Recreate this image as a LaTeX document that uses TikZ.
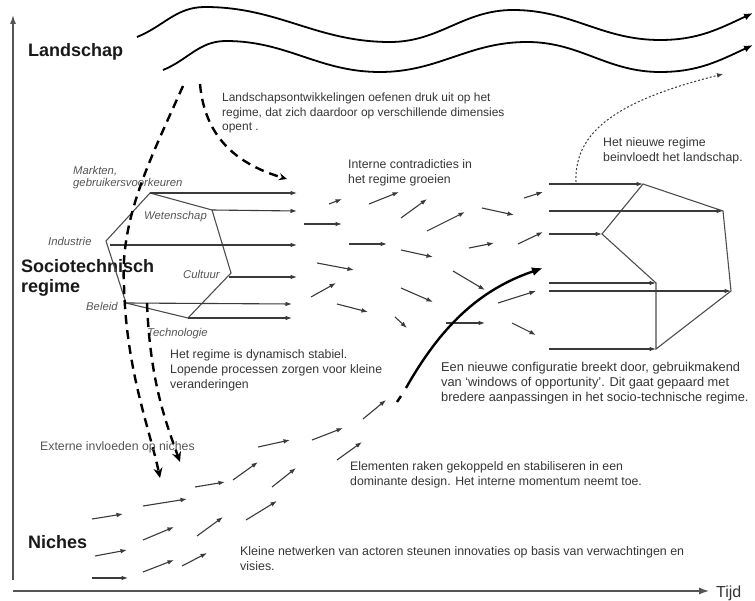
\documentclass[tikz,border=0pt]{standalone}
\usepackage{fontspec}
\setmainfont{Liberation Sans}
\usetikzlibrary{arrows.meta}
\definecolor{txt}{HTML}{363636}
\definecolor{lab}{HTML}{555555}
\definecolor{ln}{HTML}{3A3A3A}
\begin{document}
\begin{tikzpicture}[x=1pt,y=-1pt,
  sarrow/.style={draw=ln, line width=1.1pt, -{Latex[length=6.5pt,width=4.6pt]}},
  hexline/.style={draw=ln!90, line width=1.1pt},
  wave/.style={line width=1.8pt, -{Latex[length=9pt,width=7pt]}},
  bigdash/.style={line width=2.4pt, dash pattern=on 9pt off 6pt, -{Stealth[length=10pt,width=9pt]}},
  body/.style={font=\fontsize{12.3}{15}\selectfont, text=txt, align=left, inner sep=0pt, anchor=base west},
  hlab/.style={font=\fontsize{11.3}{12}\selectfont\itshape, text=lab, inner sep=0pt, anchor=base west},
  level/.style={font=\fontsize{18}{20}\selectfont\bfseries, text=black!90, inner sep=0pt, anchor=base west, align=left}]
\useasboundingbox (0,0) rectangle (755,601);
\fill[white] (0,0) rectangle (755,601);

% axes
\coordinate (o1) at (13,580);
\coordinate (ytop) at (13,15);
\coordinate (o2) at (13,591);
\coordinate (xend) at (709,591);
\draw[draw=lab, line width=1.2pt, -{Latex[length=9pt,width=6pt]}] (o1) -- (ytop);
\draw[draw=lab, line width=1.2pt, -{Latex[length=10pt,width=7pt]}] (o2) -- (xend);
\node[font=\fontsize{16}{18}\selectfont, text=txt, inner sep=0pt, anchor=base west] (tijd) at (716,597) {Tijd};

% landscape waves
\draw[wave] (137,37) to[out=22,in=180] (205,7) to[out=0,in=180] (390,42)
  to[out=0,in=180] (513,10) to[out=0,in=180] (660,40) to[out=0,in=205] (753,13);
\draw[wave] (163,70) to[out=22,in=180] (226,41) to[out=0,in=180] (380,72)
  to[out=0,in=180] (527,42) to[out=0,in=180] (660,72) to[out=0,in=205] (753,45);

% level labels (base = last line)
\node[level] (landschap) at (28,57) {Landschap};
\node[level] (regime) at (21,293) {Sociotechnisch\\regime};
\node[level] (niches) at (28,548) {Niches};

% left hexagon (regime)
\coordinate (A) at (150,193);
\coordinate (B) at (212,210);
\coordinate (C) at (231,273);
\coordinate (D) at (188,318);
\coordinate (E) at (126,303);
\coordinate (F) at (106,241);
\draw[hexline] (A) -- (B) -- (C) -- (D) -- (E) -- (F) -- cycle;
\coordinate (Ae) at (297,193);
\coordinate (Be) at (297,211);
\coordinate (Fs) at (110,245);
\coordinate (Fe) at (297,245);
\coordinate (Cs) at (229,277);
\coordinate (Ce) at (297,277);
\coordinate (Ee) at (292,304);
\coordinate (De) at (292,318);
\draw[sarrow] (A) -- (Ae);
\draw[sarrow] (B) -- (Be);
\draw[sarrow] (Fs) -- (Fe);
\draw[sarrow] (Cs) -- (Ce);
\draw[sarrow] (E) -- (Ee);
\draw[sarrow] (D) -- (De);

\node[hlab, align=left] (markten) at (73,187) {Markten,\\gebruikersvoorkeuren};
\node[hlab] (wetenschap) at (144,220) {Wetenschap};
\node[hlab] (industrie) at (48,246) {Industrie};
\node[hlab] (cultuur) at (183,279) {Cultuur};
\node[hlab] (beleid) at (86,311) {Beleid};
\node[hlab] (technologie) at (147,337) {Technologie};

% regime dynamics arrows
\foreach \a/\b/\c/\d in {329/204/342/199, 304/224/342/224, 369/204/399/192, 401/218/427/199,
  427/231/465/212, 349/244/387/244, 317/263/354/270, 401/250/433/257, 469/248/494/243,
  311/297/336/283, 453/271/485/290, 401/288/433/302, 337/304/368/312, 482/208/514/215,
  524/198/543/192, 518/244/543/232, 498/303/536/291, 395/317/407/328, 446/323/485/323,
  512/323/536/335}
  \draw[sarrow] (\a,\b) -- (\c,\d);

% niche arrows
\foreach \a/\b/\c/\d in {92/519/123/514, 143/506/187/499, 195/487/225/482, 233/480/258/462,
  258/447/290/440, 312/440/343/428, 363/419/386/400, 337/460/362/442, 272/487/296/468,
  246/520/277/501, 197/536/223/517, 143/540/174/527, 95/556/127/550, 143/572/174/560,
  182/566/207/553, 92/578/128/578}
  \draw[sarrow] (\a,\b) -- (\c,\d);

% right hexagon (new regime)
\coordinate (P1) at (643,184);
\coordinate (P2) at (723,211);
\coordinate (P3) at (731,291);
\coordinate (P4) at (656,349);
\coordinate (P5) at (656,283);
\coordinate (P6) at (602,234);
\draw[hexline] (P1) -- (P2) -- (P3) -- (P4) -- (P5) -- (P6) -- cycle;
\coordinate (Q1) at (549,184);
\coordinate (Q2) at (549,211);
\coordinate (Q6) at (549,234);
\coordinate (Q5) at (549,283);
\coordinate (Q3) at (549,291);
\coordinate (Q4) at (549,349);
\draw[sarrow] (Q1) -- (P1);
\draw[sarrow] (Q2) -- (P2);
\draw[sarrow] (Q6) -- (P6);
\draw[sarrow] (Q5) -- (P5);
\draw[sarrow] (Q3) -- (P3);
\draw[sarrow] (Q4) -- (P4);

% dashed influence arrows
\coordinate (d1s) at (183,86);
\coordinate (d1m) at (124,285);
\coordinate (d1e) at (160,478);
\draw[bigdash] (d1s) .. controls (150,160) and (120,218) .. (d1m) .. controls (126,370) and (150,430) .. (d1e);
\coordinate (d2s) at (147,303);
\coordinate (d2e) at (180,462);
\draw[bigdash] (d2s) .. controls (150,380) and (165,420) .. (d2e);
\coordinate (d3s) at (200,84);
\coordinate (d3e) at (287,179);
\draw[bigdash, -{Stealth[length=8pt,width=7pt]}] (d3s) .. controls (205,140) and (240,165) .. (d3e);

% breakthrough
\coordinate (b0) at (397,402);
\coordinate (b1) at (401,396);
\coordinate (bs) at (406,388);
\coordinate (be) at (543,268);
\draw[line width=2.4pt] (b0) -- (b1);
\draw[line width=2.4pt, -{Latex[length=11pt,width=9pt]}] (bs) .. controls (440,328) and (478,290) .. (be);

% dotted feedback
\coordinate (f1) at (576,182);
\coordinate (f2) at (723,74);
\draw[draw=ln, line width=1pt, dash pattern=on 2pt off 2pt, -{Latex[length=6pt,width=5pt]}]
  (f1) .. controls (574,130) and (620,100) .. (f2);

% texts (base anchor = baseline of last line)
\node[body, font=\fontsize{11.95}{14.5}\selectfont] (t1) at (222,131) {Landschapsontwikkelingen oefenen druk uit op het\\regime, dat zich daardoor op verschillende dimensies\\opent .};
\node[body] (t2) at (348,184) {Interne contradicties in\\het regime groeien};
\node[body] (t3) at (603,162) {Het nieuwe regime\\beinvloedt het landschap.};
\node[body, font=\fontsize{12.3}{15.5}\selectfont] (t4) at (170,389) {Het regime is dynamisch stabiel.\\Lopende processen zorgen voor kleine\\veranderingen};
\node[body, font=\fontsize{12.8}{15}\selectfont] (t5) at (441,402) {Een nieuwe configuratie breekt door, gebruikmakend\\van `windows of opportunity'. Dit gaat gepaard met\\bredere aanpassingen in het socio-technische regime.};
\node[body, text=lab] (t6) at (40,450) {Externe invloeden op niches};
\node[body] (t7) at (350,485) {Elementen raken gekoppeld en stabiliseren in een\\dominante design. Het interne momentum neemt toe.};
\node[body, font=\fontsize{12.4}{15}\selectfont] (t8) at (240,570) {Kleine netwerken van actoren steunen innovaties op basis van verwachtingen en\\visies.};
\end{tikzpicture}
\end{document}
